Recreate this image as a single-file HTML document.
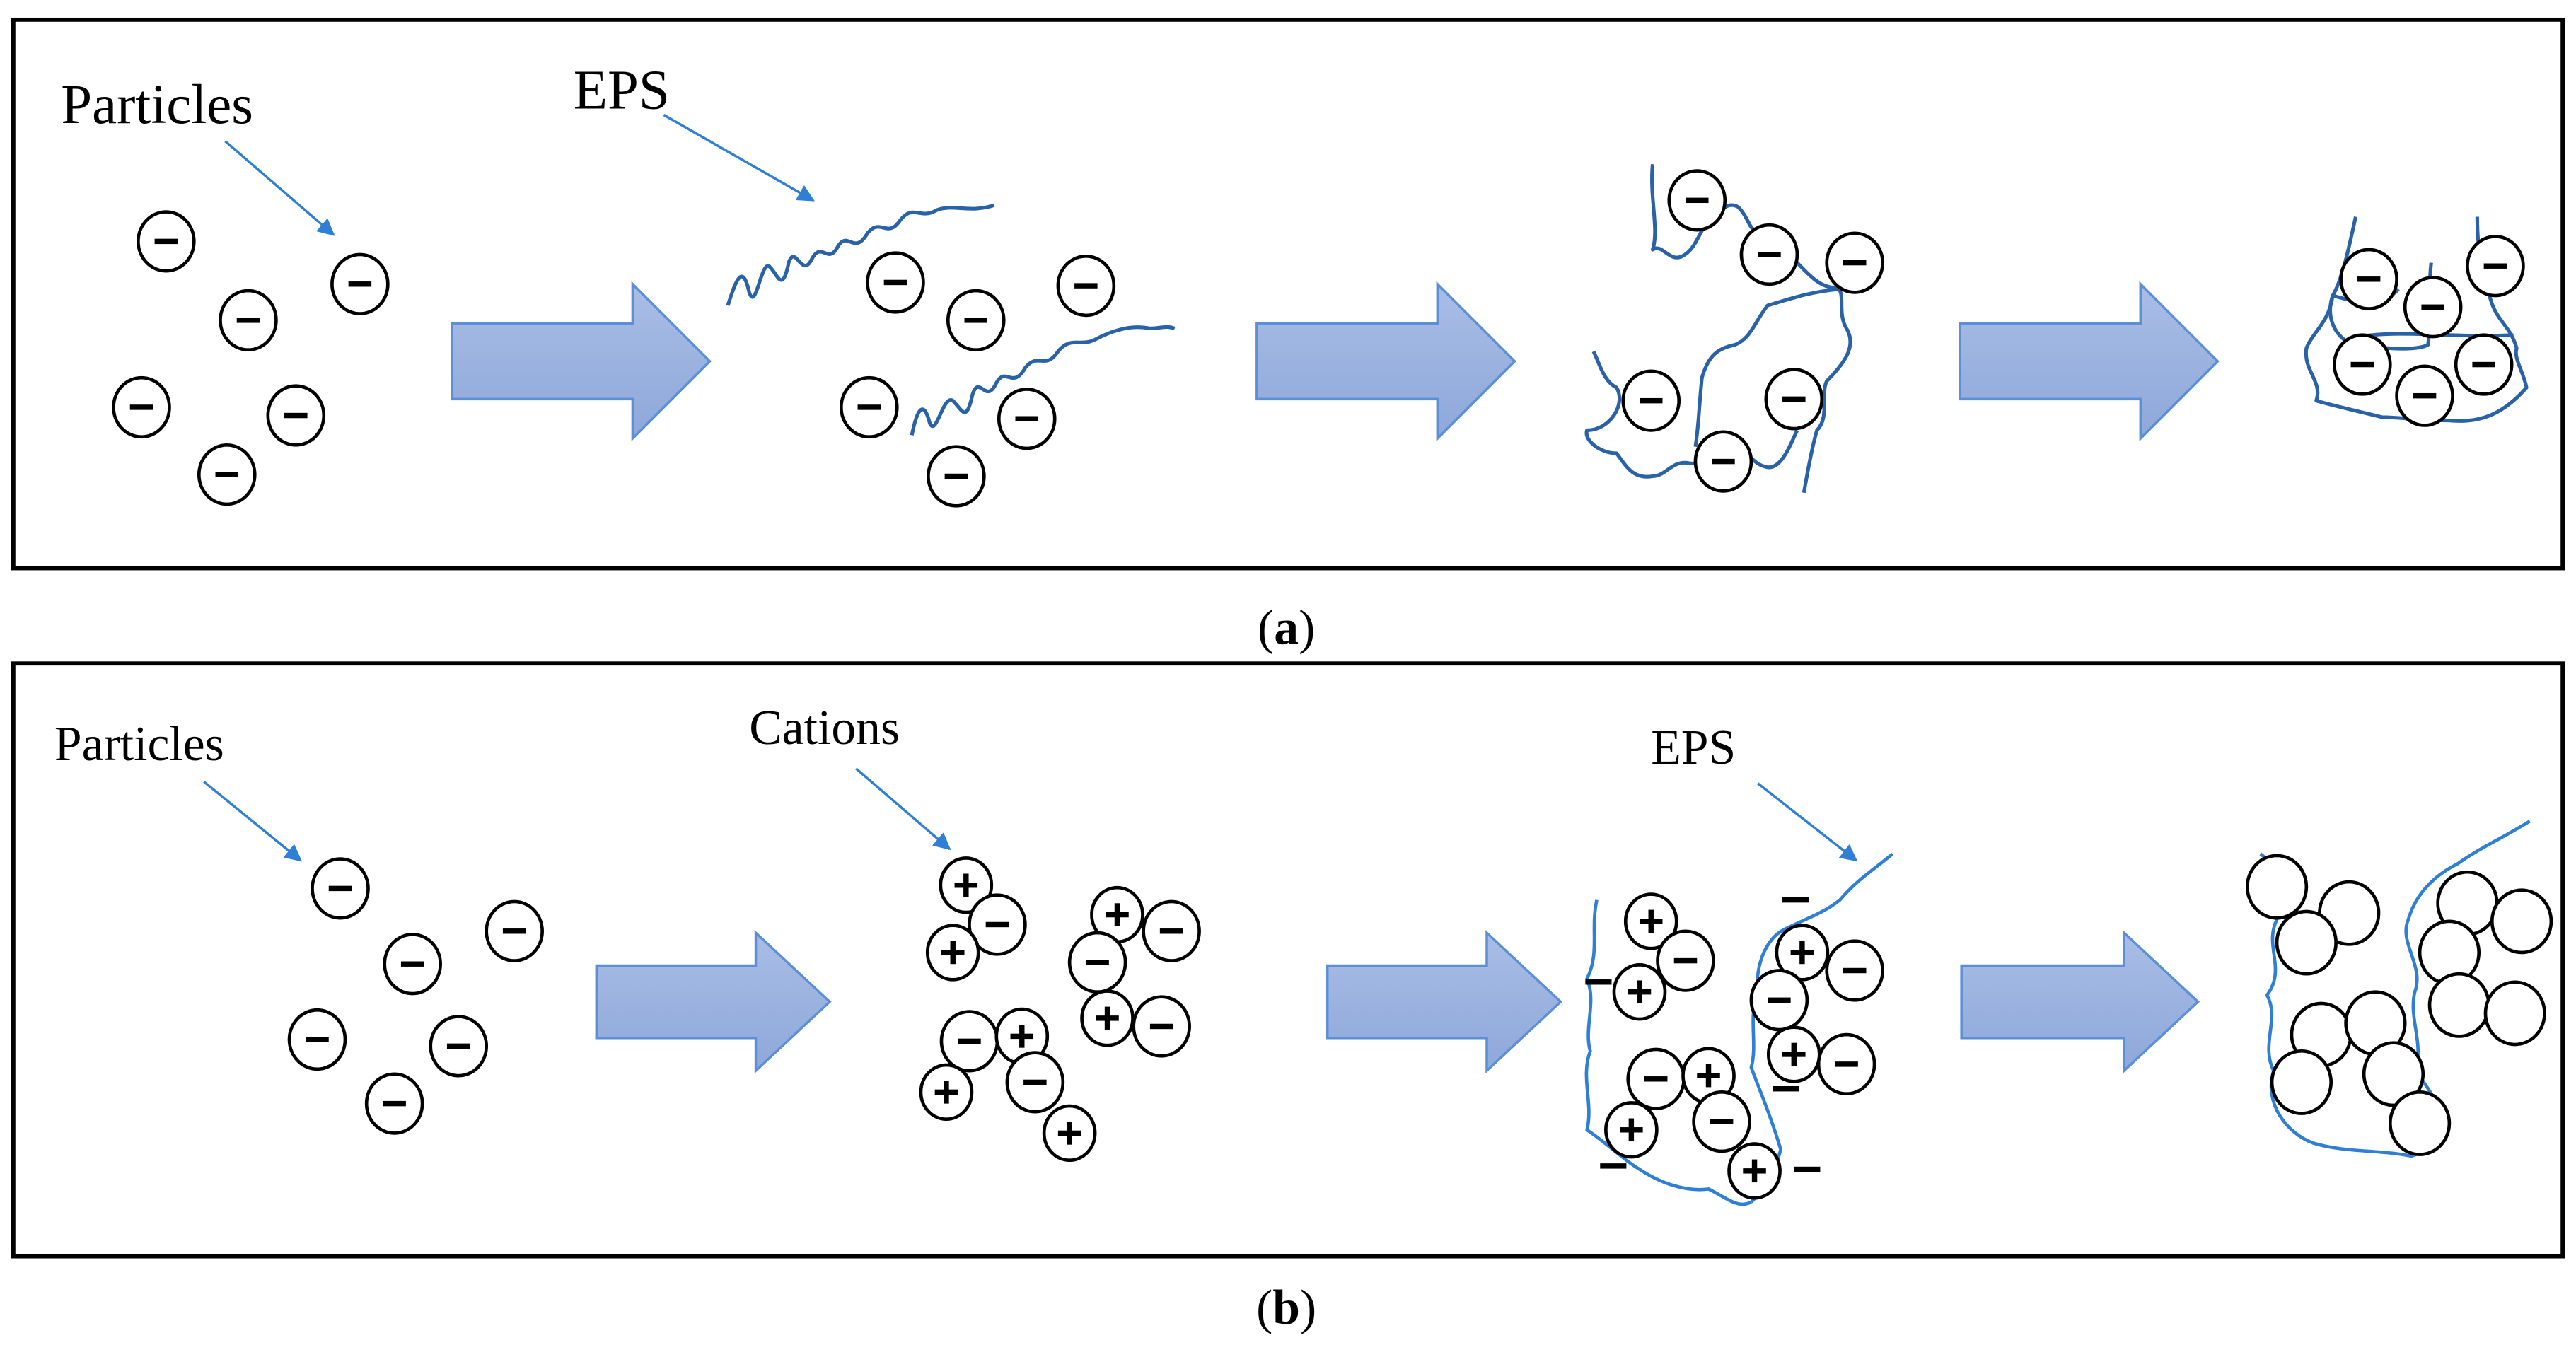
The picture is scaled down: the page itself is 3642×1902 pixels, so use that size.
<!DOCTYPE html>
<html><head><meta charset="utf-8"><style>
html,body{margin:0;padding:0;background:#fff;}
svg{display:block;}
text{font-family:"Liberation Serif",serif;fill:#000;}
</style></head><body>
<svg width="3642" height="1902" viewBox="0 0 1568 819" xmlns="http://www.w3.org/2000/svg">
<defs>
<linearGradient id="g" x1="0" y1="0" x2="0" y2="1"><stop offset="0" stop-color="#a9bde6"/><stop offset="1" stop-color="#8ea8da"/></linearGradient>
<marker id="ah" viewBox="0 0 10 10" refX="9" refY="5" markerWidth="7" markerHeight="7" orient="auto"><path d="M0,0 L10,5 L0,10 z" fill="#2f7fd6"/></marker>
<g id="m"><ellipse rx="17" ry="18" fill="#fff" stroke="#000" stroke-width="2"/><rect x="-7" y="-1.6" width="14" height="3.2" fill="#000"/></g>
<g id="p"><ellipse rx="15.5" ry="16.5" fill="#fff" stroke="#000" stroke-width="2"/><rect x="-7" y="-1.6" width="14" height="3.2" fill="#000"/><rect x="-1.6" y="-7" width="3.2" height="14" fill="#000"/></g>
<g id="bm"><rect x="-8" y="-1.6" width="16" height="3.2" fill="#000"/></g>
<g id="o"><ellipse rx="18" ry="19" fill="#fff" stroke="#000" stroke-width="2"/></g>
</defs>
<rect x="8" y="12" width="1552" height="334" fill="none" stroke="#000" stroke-width="2.5"/>
<rect x="8" y="404" width="1552" height="361" fill="none" stroke="#000" stroke-width="2.5"/>
<text x="783" y="392" font-size="30" text-anchor="middle">(<tspan font-weight="bold">a</tspan>)</text>
<text x="783" y="806" font-size="30" text-anchor="middle">(<tspan font-weight="bold">b</tspan>)</text>

<g fill="url(#g)" stroke="#5b8fd6" stroke-width="1.5">
<path d="M275,197 H385 V173 L432,220 L385,267 V243 H275 Z"/>
<path d="M765,197 H875 V173 L922,220 L875,267 V243 H765 Z"/>
<path d="M1193,197 H1303 V173 L1350,220 L1303,267 V243 H1193 Z"/>
<path d="M363,588 H460 V568 L505,610 L460,652 V632 H363 Z"/>
<path d="M808,588 H905 V568 L950,610 L905,652 V632 H808 Z"/>
<path d="M1194,588 H1293 V568 L1338,610 L1293,652 V632 H1194 Z"/>
</g>

<text x="37" y="75" font-size="34">Particles</text>
<line x1="137" y1="86" x2="203" y2="143" stroke="#2f7fd6" stroke-width="1.5" marker-end="url(#ah)"/>
<text x="349" y="66" font-size="34">EPS</text>
<line x1="404" y1="70" x2="495" y2="122" stroke="#2f7fd6" stroke-width="1.5" marker-end="url(#ah)"/>

<g fill="none" stroke="#2a62a8" stroke-width="2.2" stroke-linejoin="round">
<path d="M443,186 C448,170 452,160 456,178 C460,190 463,160 468,162 C473,166 476,180 480,160 C484,148 488,170 494,158 C500,146 504,162 510,150 C516,140 520,156 528,142 C536,132 540,146 548,134 C556,124 560,134 570,128 C580,124 590,130 605,125"/>
<path d="M555,265 C558,250 562,242 566,258 C570,266 574,240 580,244 C586,250 588,258 592,240 C596,228 600,246 606,234 C612,222 616,238 624,224 C632,214 636,226 644,214 C652,204 658,212 668,206 C680,200 690,198 700,200 C706,200 710,198 715,200"/>
<path d="M1006,100 C1004,120 1010,140 1006,152 C1012,148 1016,160 1024,156 C1032,152 1034,142 1040,134 C1048,130 1050,122 1058,126 C1066,134 1064,142 1072,140 C1082,144 1086,150 1094,160 C1100,166 1108,176 1118,175 C1124,178 1118,190 1124,200 C1130,210 1124,220 1112,232 C1108,240 1114,254 1106,262 C1102,276 1100,290 1098,300"/>
<path d="M1120,176 C1100,178 1090,182 1076,186 C1068,196 1066,206 1056,210 C1046,212 1040,216 1036,230 C1034,250 1034,260 1032,272"/>
<path d="M970,214 C974,222 976,232 984,236 C990,246 980,262 966,262 C964,268 974,276 984,276 C990,284 994,292 1006,290 C1014,290 1018,280 1028,282 C1040,284 1046,272 1054,268 C1062,272 1066,282 1074,284 C1084,288 1090,270 1094,262"/>
<path d="M1434,132 C1430,150 1426,170 1420,180 C1418,196 1408,202 1404,212 C1402,226 1414,232 1410,244 C1424,248 1434,250 1450,254 C1460,254 1472,256 1490,256 C1510,258 1524,252 1538,236 C1536,226 1530,218 1532,212 C1528,198 1520,196 1516,182 C1512,170 1508,156 1508,132 M1480,160 C1478,176 1480,196 1478,210 C1470,214 1450,212 1432,210 C1420,204 1416,192 1420,180 C1434,184 1450,188 1460,176 M1430,206 C1460,200 1490,206 1530,204"/>
</g>
<use href="#m" x="101" y="147"/><use href="#m" x="219" y="173"/><use href="#m" x="151" y="195"/><use href="#m" x="86" y="248"/><use href="#m" x="180" y="253"/><use href="#m" x="138" y="289"/>
<use href="#m" x="545" y="172"/><use href="#m" x="661" y="174"/><use href="#m" x="594" y="195"/><use href="#m" x="529" y="248"/><use href="#m" x="625" y="255"/><use href="#m" x="582" y="290"/>
<use href="#m" x="1033" y="122"/><use href="#m" x="1077" y="155"/><use href="#m" x="1129" y="160"/><use href="#m" x="1005" y="244"/><use href="#m" x="1092" y="243"/><use href="#m" x="1049" y="281"/>
<use href="#m" x="1442" y="170"/><use href="#m" x="1481" y="187"/><use href="#m" x="1519" y="162"/><use href="#m" x="1438" y="222"/><use href="#m" x="1512" y="222"/><use href="#m" x="1476" y="241"/>

<text x="33" y="463" font-size="30">Particles</text>
<line x1="124" y1="476" x2="183" y2="524" stroke="#2f7fd6" stroke-width="1.5" marker-end="url(#ah)"/>
<text x="456" y="453" font-size="30">Cations</text>
<line x1="521" y1="468" x2="578" y2="517" stroke="#2f7fd6" stroke-width="1.5" marker-end="url(#ah)"/>
<text x="1005" y="465" font-size="30">EPS</text>
<line x1="1070" y1="477" x2="1130" y2="524" stroke="#2f7fd6" stroke-width="1.5" marker-end="url(#ah)"/>

<use href="#m" x="207" y="541"/><use href="#m" x="313" y="567"/><use href="#m" x="251" y="587"/><use href="#m" x="193" y="633"/><use href="#m" x="279" y="637"/><use href="#m" x="240" y="672"/>

<use href="#p" x="588" y="539"/><use href="#m" x="607" y="563"/><use href="#p" x="580" y="580"/><use href="#p" x="680" y="557"/><use href="#m" x="713" y="567"/><use href="#m" x="668" y="586"/><use href="#p" x="674" y="620"/><use href="#m" x="707" y="625"/><use href="#m" x="590" y="634"/><use href="#p" x="622" y="631"/><use href="#p" x="576" y="665"/><use href="#m" x="630" y="659"/><use href="#p" x="651" y="690"/>

<g fill="none" stroke="#2f7fd6" stroke-width="2" stroke-linejoin="round">
<path d="M972,548 C968,566 974,580 966,596 C972,610 964,626 968,640 C962,656 970,672 966,688 C978,696 988,706 998,712 C1010,720 1026,726 1040,724 C1052,730 1058,736 1066,732"/>
<path d="M1152,520 C1140,530 1130,536 1120,548 C1110,556 1098,560 1086,566 C1074,572 1068,590 1070,606 C1064,618 1070,636 1066,650 C1072,666 1078,680 1084,700 C1080,714 1074,724 1066,732"/>
<path d="M1376,520 C1388,528 1382,546 1386,560 C1378,576 1392,590 1380,606 C1388,620 1376,636 1384,652 C1378,672 1392,690 1408,696 C1428,702 1448,700 1468,704 C1480,700 1490,692 1486,680"/>
<path d="M1540,500 C1524,510 1510,516 1496,526 C1480,534 1470,546 1466,560 C1460,574 1476,588 1470,604 C1466,620 1476,636 1470,652 C1480,664 1486,676 1486,680"/>
</g>
<use href="#p" x="1005" y="561"/><use href="#m" x="1026" y="585"/><use href="#p" x="998" y="604"/><use href="#bm" x="973" y="598"/><use href="#bm" x="1093" y="548"/>
<use href="#p" x="1097" y="580"/><use href="#m" x="1129" y="591"/><use href="#m" x="1083" y="609"/><use href="#p" x="1092" y="642"/><use href="#m" x="1124" y="648"/><use href="#bm" x="1087" y="663"/>
<use href="#m" x="1008" y="657"/><use href="#p" x="1040" y="655"/><use href="#p" x="993" y="688"/><use href="#m" x="1048" y="683"/><use href="#p" x="1068" y="713"/><use href="#bm" x="982" y="710"/><use href="#bm" x="1100" y="712"/>

<use href="#o" x="1386" y="540"/><use href="#o" x="1430" y="556"/><use href="#o" x="1404" y="574"/><use href="#o" x="1502" y="550"/><use href="#o" x="1535" y="561"/><use href="#o" x="1491" y="580"/><use href="#o" x="1497" y="612"/><use href="#o" x="1531" y="617"/><use href="#o" x="1413" y="630"/><use href="#o" x="1446" y="623"/><use href="#o" x="1401" y="659"/><use href="#o" x="1457" y="654"/><use href="#o" x="1473" y="684"/>
</svg>
</body></html>
